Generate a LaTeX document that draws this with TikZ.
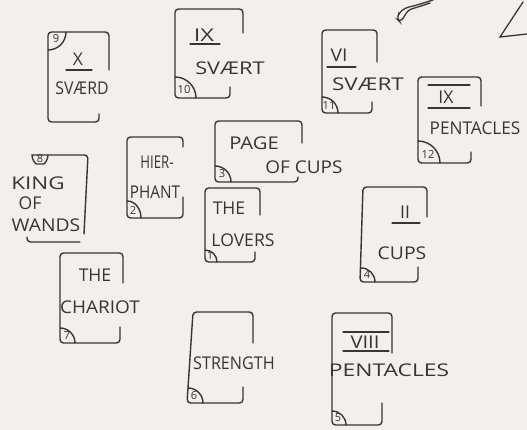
\documentclass[tikz,border=0pt]{standalone}
\usepackage{fontspec}
\newfontfamily\hand{Open Sans}
\definecolor{paper}{RGB}{241,240,236}
\definecolor{ink}{RGB}{58,53,48}
\tikzset{
  card/.style={draw=ink,line width=1.2pt,rounded corners=3pt,line cap=round,line join=round},
  rule/.style={draw=ink,line width=1.1pt,line cap=round},
  hand/.style={text=ink,font=\hand\fontsize{15}{17}\selectfont,inner sep=0pt},
  num/.style={text=ink,font=\hand\fontsize{9.5}{11}\selectfont,inner sep=0pt}
}
\begin{document}
\begin{tikzpicture}[x=0.03cm,y=-0.03cm]
\fill[paper] (0,0) rectangle (527,430);
\useasboundingbox (0,0) rectangle (527,430);
% scribbles at the top edge
\draw[rule,rounded corners=3pt] (433,0) -- (417,5) -- (405,8) -- (399,13) -- (397,19) -- (400,22) -- (404,17) -- (408,10) -- (418,7) -- (430,3);
\draw[rule] (523,2) -- (500,37) -- (527,34);
% card 9
\draw[card] (109,70) -- (109,32) -- (48,32) -- (48,122) -- (99,122) -- (99,114);
\draw[card] (48,50) to[out=0,in=-90] (66,32);
\node[num] (c9n) at (56,39) {9};
\node[hand] (c9r) at (78,59) {X};
\draw[rule] (66,70) -- (92,70);
\node[hand,xscale=0.9] (c9s) at (82,88) {SVÆRD};
% card 10
\draw[card] (243,33) -- (243,9) -- (175,9) -- (175,98) -- (230,98) -- (230,87);
\draw[card] (175,77) to[out=0,in=90] (196,98);
\node[num] (c10n) at (184,90) {10};
\node[hand,xscale=1.35] (c10r) at (204,35) {IX};
\draw[rule] (190,44) -- (220,44);
\node[hand,xscale=1.24] (c10s) at (230,68) {SVÆRT};
% card 11
\draw[card] (377,62) -- (377,30) -- (322,30) -- (322,113) -- (372,113) -- (372,102);
\draw[card] (322,97) to[out=0,in=90] (338,113);
\node[num] (c11n) at (329,106) {11};
\node[hand,xscale=1.1] (c11r) at (339,55) {VI};
\draw[rule] (327,67) -- (356,67);
\node[hand,xscale=1.28] (c11s) at (368,84) {SVÆRT};
% card 12
\draw[card] (481,106) -- (481,77) -- (418,77) -- (418,163) -- (471,163) -- (471,152);
\draw[card] (418,141) to[out=0,in=90] (440,163);
\node[num] (c12n) at (428,154) {12};
\draw[rule] (428,85) -- (470,85);
\node[hand] (c12r) at (446,97) {IX};
\draw[rule] (428,108) -- (470,108);
\node[hand,xscale=0.98] (c12s) at (475,128) {PENTACLES};
% card 8
\draw[card] (32,155) -- (88,155) -- (84,234);
\draw[card] (27,237) -- (27,242) -- (80,242);
\draw[card] (32,155) to[out=-90,in=180] (40,164) to[out=0,in=-90] (48,155);
\node[num] (c8n) at (40,159) {8};
\node[hand,xscale=1.28] (c8a) at (38,183) {KING};
\node[hand] (c8b) at (30,203) {OF};
\node[hand,xscale=1.1] (c8c) at (46,225) {WANDS};
% card 2
\draw[card] (183,147) -- (183,137) -- (127,137) -- (127,218) -- (183,218) -- (183,197);
\draw[card] (127,201) to[out=0,in=90] (141,218);
\node[num] (c2n) at (133,210) {2};
\node[hand,xscale=0.75] (c2a) at (157,162) {HIER-};
\node[hand,xscale=0.87] (c2b) at (155,192) {PHANT};
% card 3
\draw[card] (302,143) -- (302,121) -- (215,121) -- (215,182) -- (298,182) -- (298,177);
\draw[card] (215,166) to[out=0,in=90] (231,182);
\node[num] (c3n) at (222,174) {3};
\node[hand,xscale=1.15] (c3a) at (254,143) {PAGE};
\node[hand,xscale=1.08] (c3b) at (304,167) {OF CUPS};
% card 1
\draw[card] (260,215) -- (260,188) -- (205,188) -- (205,262) -- (255,262) -- (255,252);
\draw[card] (205,250) to[out=0,in=90] (217,262);
\node[num] (c1n) at (210,256) {1};
\node[hand] (c1a) at (229,208) {THE};
\node[hand] (c1b) at (243,240) {LOVERS};
% card 4
\draw[card] (427,217) -- (427,187) -- (363,187) -- (360,282) -- (418,282) -- (418,267);
\draw[card] (361,268) to[out=0,in=90] (375,282);
\node[num] (c4n) at (367,275) {4};
\node[hand] (c4r) at (405,212) {II};
\draw[rule] (392,223) -- (420,223);
\node[hand,xscale=1.1] (c4s) at (402,253) {CUPS};
% card 7
\draw[card] (123,283) -- (123,253) -- (60,253) -- (60,343) -- (120,343) -- (120,327);
\draw[card] (60,328) to[out=0,in=90] (75,343);
\node[num] (c7n) at (67,336) {7};
\node[hand] (c7a) at (95,275) {THE};
\node[hand,xscale=1.08] (c7b) at (100,307) {CHARIOT};
% card 6
\draw[card] (253,343) -- (253,312) -- (193,312) -- (187,403) -- (243,403) -- (243,387);
\draw[card] (188,388) to[out=0,in=90] (203,403);
\node[num] (c6n) at (194,396) {6};
\node[hand,xscale=0.92] (c6s) at (234,363) {STRENGTH};
% card 5
\draw[card] (392,353) -- (392,313) -- (332,313) -- (332,425) -- (382,425) -- (382,403);
\draw[card] (332,411) to[out=0,in=90] (346,425);
\node[num] (c5n) at (338,418) {5};
\draw[rule] (343,332) -- (389,332);
\node[hand,xscale=1.15] (c5r) at (365,342) {VIII};
\draw[rule] (343,351) -- (389,351);
\node[hand,xscale=1.3] (c5s) at (389,370) {PENTACLES};
\end{tikzpicture}
\end{document}
